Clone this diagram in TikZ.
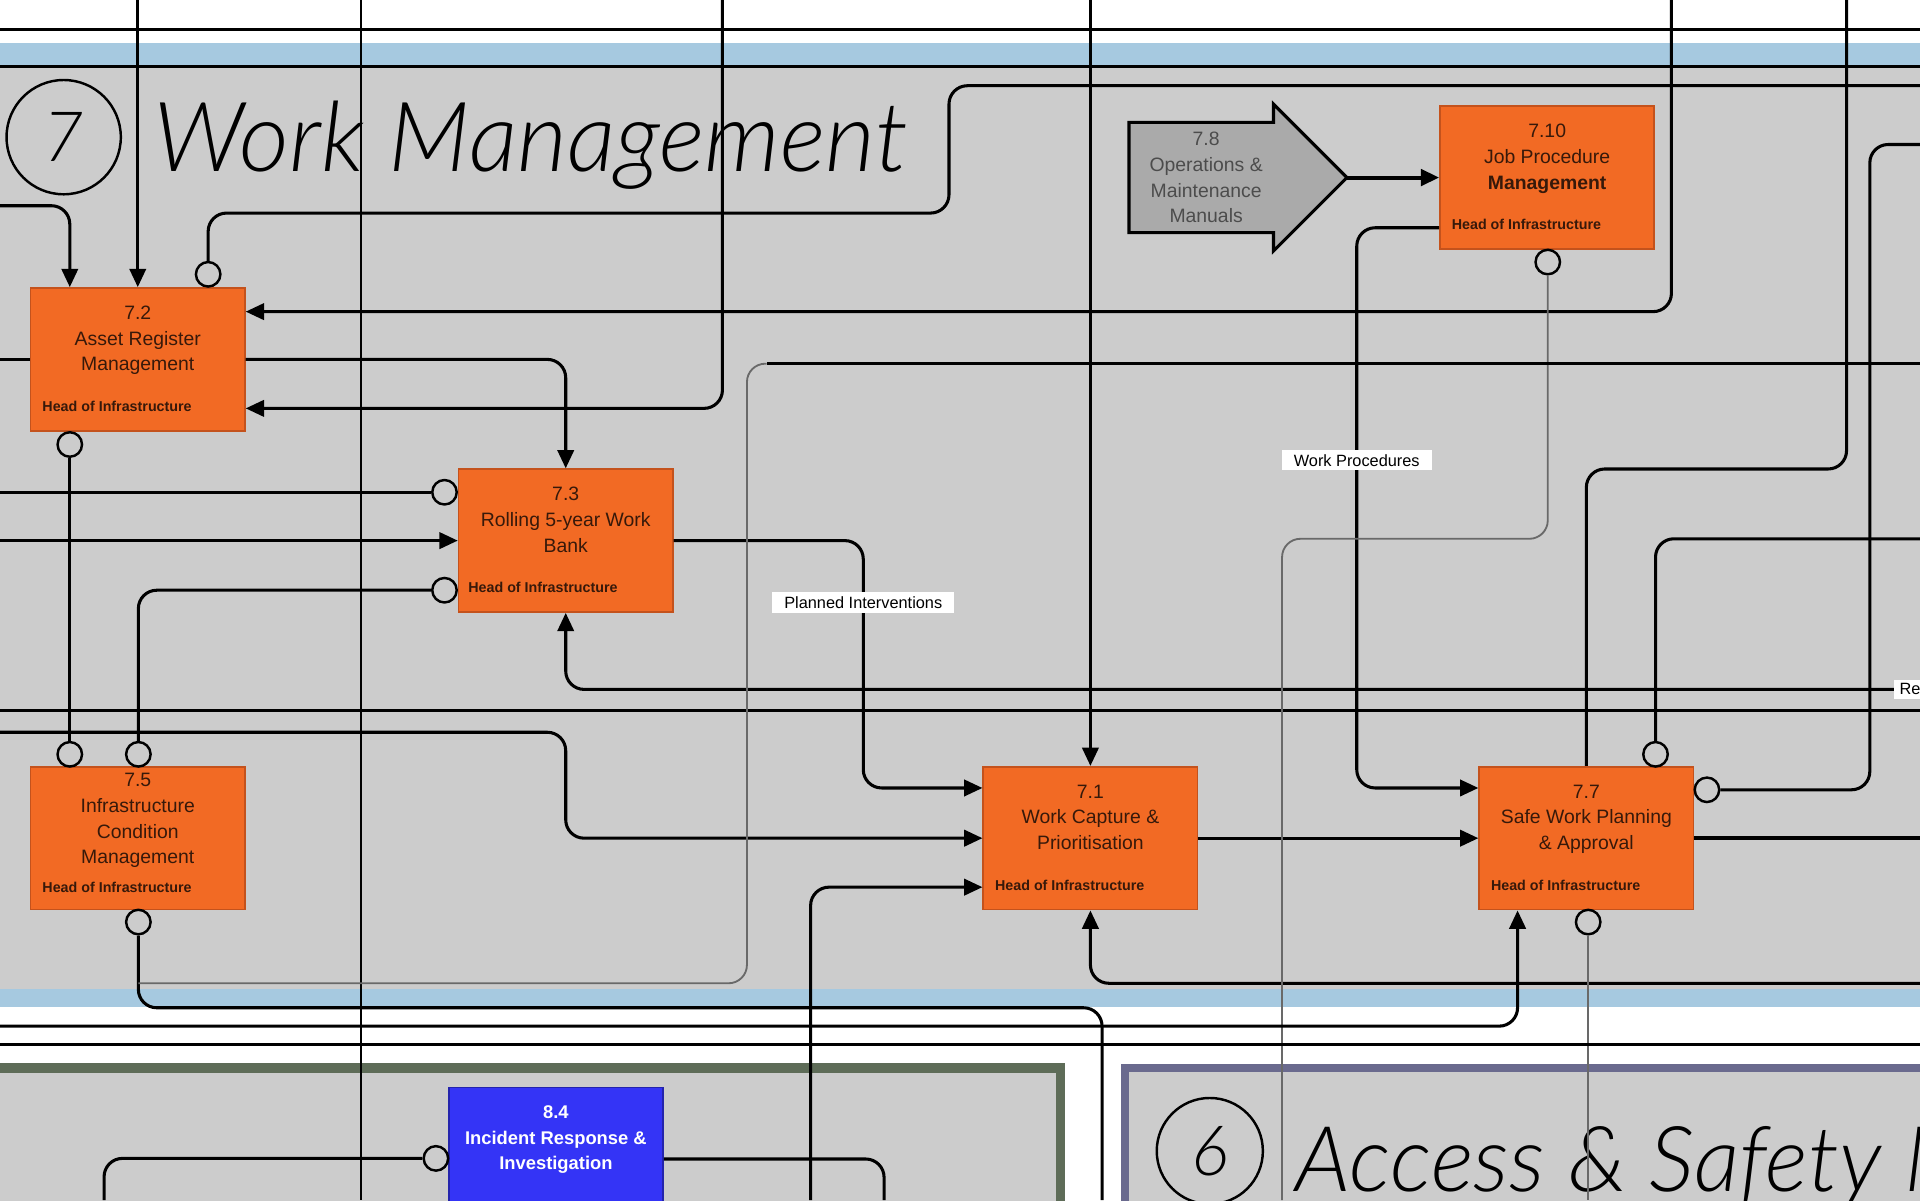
\documentclass[tikz,border=0pt]{standalone}
\usepackage{fontspec}
\setmainfont{Liberation Sans}
\newfontfamily\headfont{Lato}[UprightFont=* Light, ItalicFont=* Light Italic]
\usetikzlibrary{arrows.meta,positioning,calc}

\definecolor{bggray}{RGB}{204,204,204}
\definecolor{bandblue}{RGB}{166,201,224}
\definecolor{procfill}{RGB}{242,106,36}
\definecolor{procedge}{RGB}{196,82,28}
\definecolor{proctext}{RGB}{55,25,10}
\definecolor{arrowgray}{RGB}{170,170,170}
\definecolor{incblue}{RGB}{52,52,246}
\definecolor{secgreen}{RGB}{94,108,88}
\definecolor{secviolet}{RGB}{106,106,142}
\definecolor{linegray}{RGB}{105,105,105}

\tikzset{
  proc/.style={draw=procedge, fill=procfill, line width=0.8pt, minimum width=105pt, minimum height=70pt, inner sep=0pt},
  ptitle/.style={font=\fontsize{9.5}{12.6}\selectfont, text=proctext, align=center, inner sep=0pt},
  owner/.style={font=\fontsize{7}{8}\selectfont\bfseries, text=proctext, inner sep=0pt, anchor=base west},
  ctrl/.style={circle, draw, fill=bggray, line width=1.2pt, minimum size=12pt, inner sep=0pt},
  flow/.style={line width=1.5pt, rounded corners=9pt},
  faint/.style={line width=0.9pt, draw=linegray, rounded corners=9pt},
  arr/.style={flow, -{Triangle[length=9pt,width=8pt]}},
  tag/.style={fill=white, font=\fontsize{8}{9}\selectfont, inner xsep=6pt, inner ysep=2pt},
  secnum/.style={circle, draw, line width=1.2pt, inner sep=0pt, font=\headfont\itshape\fontsize{34}{34}\selectfont},
  sectitle/.style={anchor=base west, inner sep=0pt, font=\headfont\itshape\fontsize{47.5}{47.5}\selectfont},
}

\begin{document}
\begin{tikzpicture}[x=0.6pt, y=-0.6pt]
  \useasboundingbox (0,0) rectangle (1568,980);
  \clip (0,0) rectangle (1568,980);

  %%%%%%%%% Background %%%%%%%%%
  \fill[white] (0,0) rectangle (1568,980);
  \fill[bandblue] (0,35) rectangle (1568,54);
  \fill[bggray] (0,54) rectangle (1568,808);
  \fill[bandblue] (0,808) rectangle (1568,822);
  \draw[secgreen, line width=4.8pt, fill=bggray] (-20,872) rectangle (866,1020);
  \draw[secviolet, line width=4pt, fill=bggray] (919,872) rectangle (1600,1020);
  \draw[line width=1.2pt] (0,24) -- (1568,24);
  \draw[line width=1.5pt] (0,54) -- (1568,54);

  %%%%%%%%% Titles %%%%%%%%%
  \node[secnum, minimum size=56pt] (n7) at (52,112) {7};
  \node[sectitle] (t7) at (125,140) {Work Management};
  \node[secnum, minimum size=52pt] (n6) at (988,940) {6};
  \node[sectitle, font=\headfont\itshape\fontsize{44.5}{44.5}\selectfont] (t6) at (1058,973) {Access \& Safety Management};

  %%%%%%%%% Edge points %%%%%%%%%
  \coordinate (O) at (0,0);
  \foreach \n/\y in {wa/168, wb/580, wc/598, wd/838, we/853}
    \coordinate (\n) at (0,\y);
  \foreach \n/\y in {ea/70, eb/118, ec/297, ed/440, ee/563, ef/580, eg/803, eh/853}
    \coordinate (\n) at (1568,\y);
  \foreach \n/\x in {na/590, nb/1365, nc/1508, nd/295}
    \coordinate (\n) at (\x,0);
  \foreach \n/\x in {sa/85, sb/662, sc/722, sd/900, se/1047, sf/1297, sg/295}
    \coordinate (\n) at (\x,980);

  %%%%%%%%% Processes %%%%%%%%%
  \node[proc] (b72) at (112.5,293.5) {};
  \node[ptitle, below=9pt of b72.north] {7.2\\Asset Register\\Management};
  \node[owner] at ([xshift=6pt,yshift=10pt]b72.south west) {Head of Infrastructure};

  \node[proc] (b73) at (462,441.5) {};
  \node[ptitle, below=9pt of b73.north] {7.3\\Rolling 5-year Work\\Bank};
  \node[owner] at ([xshift=5pt,yshift=10pt]b73.south west) {Head of Infrastructure};

  \node[proc] (b710) at (1263.5,145) {};
  \node[ptitle, below=9pt of b710.north] {7.10\\Job Procedure\\\textbf{Management}};
  \node[owner] at ([xshift=6pt,yshift=10pt]b710.south west) {Head of Infrastructure};

  \node[proc] (b75) at (112.5,684.5) {};
  \node[ptitle, below=3.5pt of b75.north] {7.5\\Infrastructure\\Condition\\Management};
  \node[owner] at ([xshift=6pt,yshift=9pt]b75.south west) {Head of Infrastructure};

  \node[proc] (b71) at (890.5,684.5) {};
  \node[ptitle, below=9pt of b71.north] {7.1\\Work Capture \&\\Prioritisation};
  \node[owner] at ([xshift=6pt,yshift=10pt]b71.south west) {Head of Infrastructure};

  \node[proc] (b77) at (1295.5,684.5) {};
  \node[ptitle, below=9pt of b77.north] {7.7\\Safe Work Planning\\\& Approval};
  \node[owner] at ([xshift=6pt,yshift=10pt]b77.south west) {Head of Infrastructure};

  \node[proc, draw=incblue!70!black, fill=incblue] (b84) at (454,946.5) {};
  \node[ptitle, text=white, font=\fontsize{9}{12.6}\selectfont\bfseries, below=9pt of b84.north] {8.4\\Incident Response \&\\Investigation};

  %% manuals arrow
  \draw[line width=1.5pt, fill=arrowgray] (922,100) -- (1040,100) -- (1040,85) -- (1100,145)
    -- (1040,205) -- (1040,190) -- (922,190) -- cycle;
  \coordinate (b78tip) at (1100,145);
  \node[ptitle, text=black!70] (b78) at (985,145) {7.8\\Operations \&\\Maintenance\\Manuals};

  %%%%%%%%% Ports %%%%%%%%%
  \node[ctrl] (c72t) at (170,224) {};
  \node[ctrl] (c72b) at (57,363) {};
  \node[ctrl] (c73a) at (363,402) {};
  \node[ctrl] (c73b) at (363,482) {};
  \node[ctrl] (c75a) at (57,616) {};
  \node[ctrl] (c75b) at (113,616) {};
  \node[ctrl] (c75c) at (113,753) {};
  \node[ctrl] (c710) at (1264,214) {};
  \node[ctrl] (c77a) at (1352,616) {};
  \node[ctrl] (c77b) at (1394,645) {};
  \node[ctrl] (c77c) at (1297,753) {};
  \node[ctrl] (c84) at (356,946) {};

  \coordinate (b72i1) at ([yshift=-12pt]b72.north east);
  \coordinate (b72i2) at ([yshift=11.4pt]b72.south east);
  \coordinate (b71i1) at ([yshift=-10.8pt]b71.north west);
  \coordinate (b71i3) at ([yshift=11.4pt]b71.south west);
  \coordinate (b77i1) at ([yshift=-10.8pt]b77.north west);
  \coordinate (b77i4) at ([xshift=19.2pt]b77.south west);
  \coordinate (b710o) at ([yshift=10.8pt]b710.south west);
  \coordinate (pint) at (705,492);
  \coordinate (wpro) at (1108,376);

  %%%%%%%%% Flows %%%%%%%%%
  \draw[line width=1pt] (nd) -- (sg);
  \draw[flow] (c72t) |- (775,174) |- (ea);
  \draw[arr] (wa) -| (b72.north -| c72b);
  \draw[arr] (b72.north |- O) -- (b72.north);
  \draw[arr] (nb) |- (b72i1);
  \draw[arr] (na) |- (b72i2);
  \draw[arr] (b72.east) -| (b73.north);
  \draw[flow] (O |- b72.west) -- (b72.west);
  \draw[flow] (c72b) -- (c75a);
  \draw[flow] (O |- c73a) -- (c73a);
  \draw[arr] (O |- b73.west) -- (b73.west);
  \draw[flow] (c75b) |- (c73b);
  \draw[arr] (b73.east) -| (pint) |- (b71i1);
  \draw[arr] (ee) -| (b73.south);
  \draw[flow] (wb) -- (ef);
  \draw[arr] (wc) -| (b73.south |- b71.west) -- (b71.west);
  \draw[arr] (b71.north |- O) -- (b71.north);
  \draw[arr] (b71.east) -- (b77.west);
  \draw[arr] (sb) |- (b71i3);
  \draw[arr] (eg) -| (b71.south);
  \draw[arr, line width=2pt] (b78tip) -- (b710.west);
  \draw[arr] (b710o) -| (wpro) |- (b77i1);
  \draw[faint] (c710) |- (se |- ed) -- (se);
  \draw[flow] (b77.north) |- (1508,383) -- (nc);
  \draw[flow] (c77a) |- (ed);
  \draw[flow] (c77b) -| (1527,118) -- (eb);
  \draw[flow, line width=2.2pt] (b77.east) -- (b77.east -| ef);
  \draw[arr] (wd) -| (b77i4);
  \draw[faint] (c77c) -- (sf);
  \draw[flow] (we) -- (eh);
  \draw[flow] (c75c) |- (sd |- 0,823) -- (sd);
  \draw[flow] (ec) -- (626,297);
  \draw[faint] (626,297) -| (610,803) -- (c75c |- 0,803);
  \draw[flow] (sa) |- (c84);
  \draw[flow] (b84.east) -| (sc);

  %%%%%%%%% Labels %%%%%%%%%
  \node[tag] (lpi) at (pint) {Planned Interventions};
  \node[tag] (lwp) at (wpro) {Work Procedures};
  \node[tag, anchor=west, inner xsep=3pt] (lre) at (1546,563) {Re};
\end{tikzpicture}
\end{document}
